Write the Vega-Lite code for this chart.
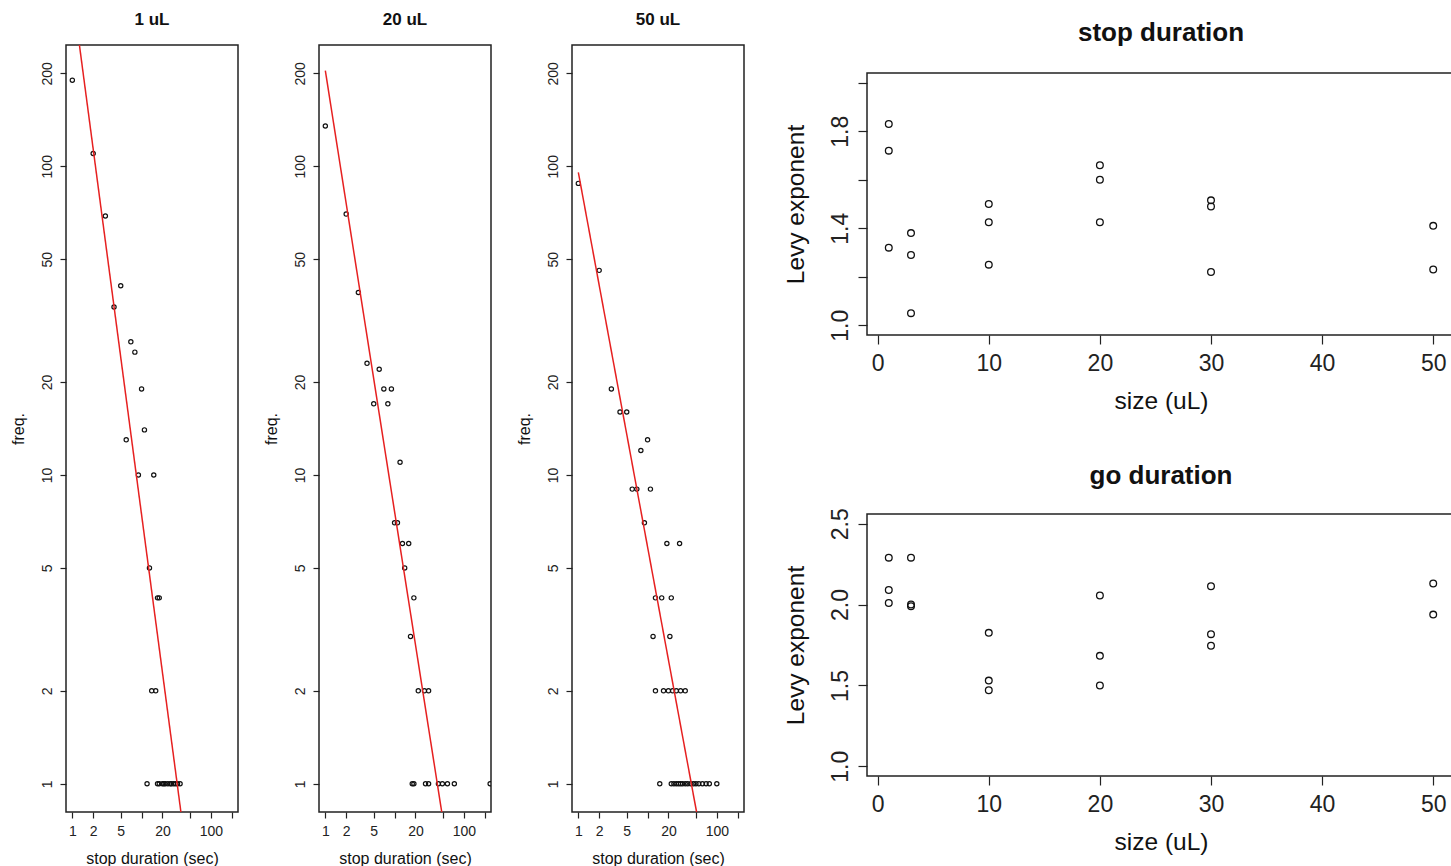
{
  "$schema": "https://vega.github.io/schema/vega-lite/v6.json",
  "padding": {"left": 9, "top": 10, "right": 0, "bottom": 0},
  "background": "white",
  "config": {
    "font": "Liberation Sans",
    "view": {"stroke": "#222", "strokeWidth": 1.5},
    "axis": {"domain": false, "grid": false, "tickColor": "#222", "tickWidth": 1.2, "labelColor": "#222", "titleColor": "#111", "titleFontWeight": "normal", "labelFlush": false, "labelOverlap": false, "labelBound": false},
    "title": {"color": "#111", "fontWeight": "bold"}
  },
  "datasets": {
    "dur": [
      {"panel": "1 uL", "dur": 1, "freq": 190}, {"panel": "1 uL", "dur": 2, "freq": 110}, {"panel": "1 uL", "dur": 3, "freq": 69}, {"panel": "1 uL", "dur": 4, "freq": 35}, {"panel": "1 uL", "dur": 5, "freq": 41}, {"panel": "1 uL", "dur": 7, "freq": 27}, {"panel": "1 uL", "dur": 8, "freq": 25}, {"panel": "1 uL", "dur": 10, "freq": 19}, {"panel": "1 uL", "dur": 6, "freq": 13}, {"panel": "1 uL", "dur": 11, "freq": 14}, {"panel": "1 uL", "dur": 9, "freq": 10}, {"panel": "1 uL", "dur": 15, "freq": 10}, {"panel": "1 uL", "dur": 13, "freq": 5}, {"panel": "1 uL", "dur": 17, "freq": 4}, {"panel": "1 uL", "dur": 18, "freq": 4}, {"panel": "1 uL", "dur": 14, "freq": 2}, {"panel": "1 uL", "dur": 16, "freq": 2},
      {"panel": "1 uL", "dur": 12, "freq": 1}, {"panel": "1 uL", "dur": 17, "freq": 1}, {"panel": "1 uL", "dur": 18, "freq": 1}, {"panel": "1 uL", "dur": 20, "freq": 1}, {"panel": "1 uL", "dur": 21, "freq": 1}, {"panel": "1 uL", "dur": 22, "freq": 1}, {"panel": "1 uL", "dur": 24, "freq": 1}, {"panel": "1 uL", "dur": 26, "freq": 1}, {"panel": "1 uL", "dur": 27, "freq": 1}, {"panel": "1 uL", "dur": 29, "freq": 1}, {"panel": "1 uL", "dur": 31, "freq": 1}, {"panel": "1 uL", "dur": 33, "freq": 1}, {"panel": "1 uL", "dur": 36, "freq": 1},
      {"panel": "20 uL", "dur": 1, "freq": 135}, {"panel": "20 uL", "dur": 2, "freq": 70}, {"panel": "20 uL", "dur": 3, "freq": 39}, {"panel": "20 uL", "dur": 4, "freq": 23}, {"panel": "20 uL", "dur": 6, "freq": 22}, {"panel": "20 uL", "dur": 7, "freq": 19}, {"panel": "20 uL", "dur": 9, "freq": 19}, {"panel": "20 uL", "dur": 5, "freq": 17}, {"panel": "20 uL", "dur": 8, "freq": 17}, {"panel": "20 uL", "dur": 12, "freq": 11}, {"panel": "20 uL", "dur": 10, "freq": 7}, {"panel": "20 uL", "dur": 11, "freq": 7}, {"panel": "20 uL", "dur": 13, "freq": 6}, {"panel": "20 uL", "dur": 16, "freq": 6}, {"panel": "20 uL", "dur": 14, "freq": 5}, {"panel": "20 uL", "dur": 19, "freq": 4}, {"panel": "20 uL", "dur": 17, "freq": 3}, {"panel": "20 uL", "dur": 22, "freq": 2}, {"panel": "20 uL", "dur": 27, "freq": 2}, {"panel": "20 uL", "dur": 31, "freq": 2},
      {"panel": "20 uL", "dur": 18, "freq": 1}, {"panel": "20 uL", "dur": 19, "freq": 1}, {"panel": "20 uL", "dur": 28, "freq": 1}, {"panel": "20 uL", "dur": 31, "freq": 1}, {"panel": "20 uL", "dur": 43, "freq": 1}, {"panel": "20 uL", "dur": 49, "freq": 1}, {"panel": "20 uL", "dur": 58, "freq": 1}, {"panel": "20 uL", "dur": 73, "freq": 1}, {"panel": "20 uL", "dur": 240, "freq": 1},
      {"panel": "50 uL", "dur": 1, "freq": 88}, {"panel": "50 uL", "dur": 2, "freq": 46}, {"panel": "50 uL", "dur": 3, "freq": 19}, {"panel": "50 uL", "dur": 4, "freq": 16}, {"panel": "50 uL", "dur": 5, "freq": 16}, {"panel": "50 uL", "dur": 10, "freq": 13}, {"panel": "50 uL", "dur": 8, "freq": 12}, {"panel": "50 uL", "dur": 6, "freq": 9}, {"panel": "50 uL", "dur": 7, "freq": 9}, {"panel": "50 uL", "dur": 11, "freq": 9}, {"panel": "50 uL", "dur": 9, "freq": 7}, {"panel": "50 uL", "dur": 19, "freq": 6}, {"panel": "50 uL", "dur": 29, "freq": 6}, {"panel": "50 uL", "dur": 13, "freq": 4}, {"panel": "50 uL", "dur": 16, "freq": 4}, {"panel": "50 uL", "dur": 22, "freq": 4}, {"panel": "50 uL", "dur": 12, "freq": 3}, {"panel": "50 uL", "dur": 21, "freq": 3},
      {"panel": "50 uL", "dur": 13, "freq": 2}, {"panel": "50 uL", "dur": 17, "freq": 2}, {"panel": "50 uL", "dur": 20, "freq": 2}, {"panel": "50 uL", "dur": 23, "freq": 2}, {"panel": "50 uL", "dur": 26, "freq": 2}, {"panel": "50 uL", "dur": 30, "freq": 2}, {"panel": "50 uL", "dur": 35, "freq": 2},
      {"panel": "50 uL", "dur": 15, "freq": 1}, {"panel": "50 uL", "dur": 22, "freq": 1}, {"panel": "50 uL", "dur": 24, "freq": 1}, {"panel": "50 uL", "dur": 26, "freq": 1}, {"panel": "50 uL", "dur": 28, "freq": 1}, {"panel": "50 uL", "dur": 30, "freq": 1}, {"panel": "50 uL", "dur": 32, "freq": 1}, {"panel": "50 uL", "dur": 35, "freq": 1}, {"panel": "50 uL", "dur": 38, "freq": 1}, {"panel": "50 uL", "dur": 42, "freq": 1}, {"panel": "50 uL", "dur": 46, "freq": 1}, {"panel": "50 uL", "dur": 50, "freq": 1}, {"panel": "50 uL", "dur": 55, "freq": 1}, {"panel": "50 uL", "dur": 62, "freq": 1}, {"panel": "50 uL", "dur": 70, "freq": 1}, {"panel": "50 uL", "dur": 78, "freq": 1}, {"panel": "50 uL", "dur": 100, "freq": 1}
    ],
    "fit": [
      {"panel": "1 uL", "dur": 1, "freq": 368}, {"panel": "1 uL", "dur": 37, "freq": 0.81},
      {"panel": "20 uL", "dur": 1, "freq": 204}, {"panel": "20 uL", "dur": 48, "freq": 0.81},
      {"panel": "50 uL", "dur": 1, "freq": 95.5}, {"panel": "50 uL", "dur": 51, "freq": 0.81}
    ],
    "levy": [
      {"measure": "stop", "size": 1, "exponent": 1.83}, {"measure": "stop", "size": 1, "exponent": 1.72}, {"measure": "stop", "size": 1, "exponent": 1.32},
      {"measure": "stop", "size": 3, "exponent": 1.38}, {"measure": "stop", "size": 3, "exponent": 1.29}, {"measure": "stop", "size": 3, "exponent": 1.05},
      {"measure": "stop", "size": 10, "exponent": 1.50}, {"measure": "stop", "size": 10, "exponent": 1.425}, {"measure": "stop", "size": 10, "exponent": 1.25},
      {"measure": "stop", "size": 20, "exponent": 1.66}, {"measure": "stop", "size": 20, "exponent": 1.60}, {"measure": "stop", "size": 20, "exponent": 1.425},
      {"measure": "stop", "size": 30, "exponent": 1.515}, {"measure": "stop", "size": 30, "exponent": 1.49}, {"measure": "stop", "size": 30, "exponent": 1.22},
      {"measure": "stop", "size": 50, "exponent": 1.41}, {"measure": "stop", "size": 50, "exponent": 1.23},
      {"measure": "go", "size": 1, "exponent": 2.29}, {"measure": "go", "size": 1, "exponent": 2.09}, {"measure": "go", "size": 1, "exponent": 2.01},
      {"measure": "go", "size": 3, "exponent": 2.29}, {"measure": "go", "size": 3, "exponent": 2.0}, {"measure": "go", "size": 3, "exponent": 1.99},
      {"measure": "go", "size": 10, "exponent": 1.825}, {"measure": "go", "size": 10, "exponent": 1.53}, {"measure": "go", "size": 10, "exponent": 1.47},
      {"measure": "go", "size": 20, "exponent": 2.056}, {"measure": "go", "size": 20, "exponent": 1.683}, {"measure": "go", "size": 20, "exponent": 1.50},
      {"measure": "go", "size": 30, "exponent": 2.113}, {"measure": "go", "size": 30, "exponent": 1.817}, {"measure": "go", "size": 30, "exponent": 1.745},
      {"measure": "go", "size": 50, "exponent": 2.13}, {"measure": "go", "size": 50, "exponent": 1.938}
    ]
  },
  "spacing": 37,
  "hconcat": [
    {
      "spacing": 23,
      "hconcat": [
        {
          "width": 172, "height": 767,
          "title": {"text": "1 uL", "fontSize": 17, "offset": 16},
          "layer": [
            {
              "data": {"name": "dur"},
              "transform": [{"filter": "datum.panel == '1 uL'"}],
              "mark": {"type": "point", "shape": "circle", "filled": false, "color": "#111", "size": 18, "strokeWidth": 1.2, "opacity": 1, "clip": true},
              "encoding": {
                "x": {"field": "dur", "type": "quantitative", "scale": {"type": "log", "domain": [0.81, 247], "nice": false}, "axis": {"values": [1, 2, 5, 10, 20, 50, 100, 200], "format": "d", "labelExpr": "(datum.value == 10 || datum.value == 50 || datum.value == 200) ? '' : datum.label", "title": "stop duration (sec)", "tickSize": 6, "labelPadding": 6, "titlePadding": 12, "labelFontSize": 14, "titleFontSize": 16}},
                "y": {"field": "freq", "type": "quantitative", "scale": {"type": "log", "domain": [0.81, 247], "nice": false}, "axis": {"values": [1, 2, 5, 10, 20, 50, 100, 200], "format": "d", "labelAngle": -90, "labelAlign": "center", "labelBaseline": "bottom", "title": "freq.", "tickSize": 6, "labelPadding": 5.5, "titlePadding": 14, "labelFontSize": 14, "titleFontSize": 16}}
              }
            },
            {
              "data": {"name": "fit"},
              "transform": [{"filter": "datum.panel == '1 uL'"}],
              "mark": {"type": "line", "color": "#e62020", "strokeWidth": 1.5, "clip": true},
              "encoding": {"x": {"field": "dur", "type": "quantitative"}, "y": {"field": "freq", "type": "quantitative"}}
            }
          ]
        },
        {
          "width": 172, "height": 767,
          "title": {"text": "20 uL", "fontSize": 17, "offset": 16},
          "layer": [
            {
              "data": {"name": "dur"},
              "transform": [{"filter": "datum.panel == '20 uL'"}],
              "mark": {"type": "point", "shape": "circle", "filled": false, "color": "#111", "size": 18, "strokeWidth": 1.2, "opacity": 1, "clip": true},
              "encoding": {
                "x": {"field": "dur", "type": "quantitative", "scale": {"type": "log", "domain": [0.81, 247], "nice": false}, "axis": {"values": [1, 2, 5, 10, 20, 50, 100, 200], "format": "d", "labelExpr": "(datum.value == 10 || datum.value == 50 || datum.value == 200) ? '' : datum.label", "title": "stop duration (sec)", "tickSize": 6, "labelPadding": 6, "titlePadding": 12, "labelFontSize": 14, "titleFontSize": 16}},
                "y": {"field": "freq", "type": "quantitative", "scale": {"type": "log", "domain": [0.81, 247], "nice": false}, "axis": {"values": [1, 2, 5, 10, 20, 50, 100, 200], "format": "d", "labelAngle": -90, "labelAlign": "center", "labelBaseline": "bottom", "title": "freq.", "tickSize": 6, "labelPadding": 5.5, "titlePadding": 14, "labelFontSize": 14, "titleFontSize": 16}}
              }
            },
            {
              "data": {"name": "fit"},
              "transform": [{"filter": "datum.panel == '20 uL'"}],
              "mark": {"type": "line", "color": "#e62020", "strokeWidth": 1.5, "clip": true},
              "encoding": {"x": {"field": "dur", "type": "quantitative"}, "y": {"field": "freq", "type": "quantitative"}}
            }
          ]
        },
        {
          "width": 172, "height": 767,
          "title": {"text": "50 uL", "fontSize": 17, "offset": 16},
          "layer": [
            {
              "data": {"name": "dur"},
              "transform": [{"filter": "datum.panel == '50 uL'"}],
              "mark": {"type": "point", "shape": "circle", "filled": false, "color": "#111", "size": 18, "strokeWidth": 1.2, "opacity": 1, "clip": true},
              "encoding": {
                "x": {"field": "dur", "type": "quantitative", "scale": {"type": "log", "domain": [0.81, 247], "nice": false}, "axis": {"values": [1, 2, 5, 10, 20, 50, 100, 200], "format": "d", "labelExpr": "(datum.value == 10 || datum.value == 50 || datum.value == 200) ? '' : datum.label", "title": "stop duration (sec)", "tickSize": 6, "labelPadding": 6, "titlePadding": 12, "labelFontSize": 14, "titleFontSize": 16}},
                "y": {"field": "freq", "type": "quantitative", "scale": {"type": "log", "domain": [0.81, 247], "nice": false}, "axis": {"values": [1, 2, 5, 10, 20, 50, 100, 200], "format": "d", "labelAngle": -90, "labelAlign": "center", "labelBaseline": "bottom", "title": "freq.", "tickSize": 6, "labelPadding": 5.5, "titlePadding": 14, "labelFontSize": 14, "titleFontSize": 16}}
              }
            },
            {
              "data": {"name": "fit"},
              "transform": [{"filter": "datum.panel == '50 uL'"}],
              "mark": {"type": "line", "color": "#e62020", "strokeWidth": 1.5, "clip": true},
              "encoding": {"x": {"field": "dur", "type": "quantitative"}, "y": {"field": "freq", "type": "quantitative"}}
            }
          ]
        }
      ]
    },
    {
      "spacing": 0,
      "vconcat": [
        {
          "width": 588, "height": 27,
          "view": {"stroke": null},
          "title": {"text": "stop duration", "fontSize": 26, "offset": -1},
          "data": {"values": [{"a": 0}]},
          "mark": {"type": "text", "text": ""},
          "encoding": {}
        },
        {
          "spacing": 47,
          "vconcat": [
            {
              "width": 588, "height": 262,
              "data": {"name": "levy"},
              "transform": [{"filter": "datum.measure == 'stop'"}],
              "mark": {"type": "point", "shape": "circle", "filled": false, "color": "#111", "size": 45, "strokeWidth": 1.3, "opacity": 1},
              "encoding": {
                "x": {"field": "size", "type": "quantitative", "scale": {"domain": [-0.96, 51.96], "nice": false, "zero": false}, "axis": {"values": [0, 10, 20, 30, 40, 50], "title": "size (uL)", "tickSize": 9, "labelPadding": 8, "titlePadding": 14, "labelFontSize": 23, "titleFontSize": 24.5}},
                "y": {"field": "exponent", "type": "quantitative", "scale": {"domain": [0.96, 2.04], "nice": false, "zero": false}, "axis": {"values": [1.0, 1.2, 1.4, 1.6, 1.8, 2.0], "format": ".1f", "labelExpr": "(datum.value == 1.2 || datum.value == 1.6 || datum.value == 2) ? '' : datum.label", "labelAngle": -90, "labelAlign": "center", "labelBaseline": "bottom", "title": "Levy exponent", "tickSize": 9, "labelPadding": 6, "titlePadding": 21, "labelFontSize": 23, "titleFontSize": 24.5}}
              }
            },
            {
              "width": 588, "height": 262,
              "title": {"text": "go duration", "fontSize": 26, "offset": 19},
              "data": {"name": "levy"},
              "transform": [{"filter": "datum.measure == 'go'"}],
              "mark": {"type": "point", "shape": "circle", "filled": false, "color": "#111", "size": 45, "strokeWidth": 1.3, "opacity": 1},
              "encoding": {
                "x": {"field": "size", "type": "quantitative", "scale": {"domain": [-0.96, 51.96], "nice": false, "zero": false}, "axis": {"values": [0, 10, 20, 30, 40, 50], "title": "size (uL)", "tickSize": 9, "labelPadding": 8, "titlePadding": 14, "labelFontSize": 23, "titleFontSize": 24.5}},
                "y": {"field": "exponent", "type": "quantitative", "scale": {"domain": [0.94, 2.56], "nice": false, "zero": false}, "axis": {"values": [1.0, 1.5, 2.0, 2.5], "format": ".1f", "labelAngle": -90, "labelAlign": "center", "labelBaseline": "bottom", "title": "Levy exponent", "tickSize": 9, "labelPadding": 6, "titlePadding": 21, "labelFontSize": 23, "titleFontSize": 24.5}}
              }
            }
          ]
        }
      ]
    }
  ]
}
